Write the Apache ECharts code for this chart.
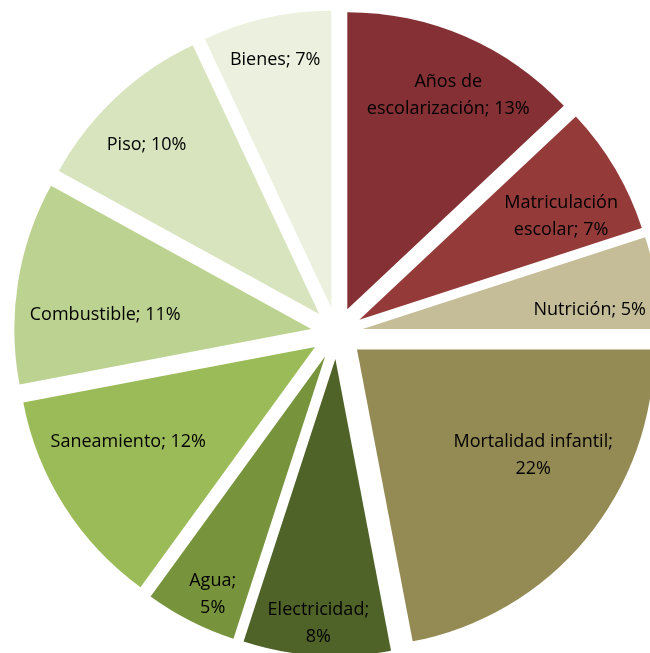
<!DOCTYPE html>
<html>
<head>
<meta charset="utf-8">
<script src="https://cdn.jsdelivr.net/npm/echarts@6/dist/echarts.min.js"></script>
<style>
html,body{margin:0;padding:0;background:#fff;}
#chart{width:650px;height:653px;}
</style>
</head>
<body>
<div id="chart"></div>
<script>
// Data
var categories = ['Años de escolarización', 'Matriculación escolar', 'Nutrición', 'Mortalidad infantil', 'Electricidad', 'Agua', 'Saneamiento', 'Combustible', 'Piso', 'Bienes'];
var values = [13, 7, 5, 22, 8, 5, 12, 11, 10, 7];
var colors = ['#843034', '#943b3a', '#c4bd97', '#948a54', '#4f6228', '#77933c', '#9bbb59', '#bcd290', '#d7e4bd', '#ebf1de'];

// small label nudges (Excel "best fit" placement), in px
var labelNudge = [[6, 6], [-4, 18], [-9, 18], [-8, -47], [-2, 26], [-4, 25], [15, -33], [30, 23], [-9, 5], [-4, -15]];

function labelText(name, pct) {
  if (name === 'Años de escolarización') return 'Años de\nescolarización; ' + pct + '%';
  if (name === 'Matriculación escolar') return 'Matriculación\nescolar; ' + pct + '%';
  if (name === 'Mortalidad infantil') return 'Mortalidad infantil;\n' + pct + '%';
  if (name === 'Electricidad') return 'Electricidad;\n' + pct + '%';
  if (name === 'Agua') return 'Agua;\n' + pct + '%';
  return name + '; ' + pct + '%';
}

var pieData = categories.map(function (c, i) {
  return { name: c, value: values[i], selected: true, itemStyle: { color: colors[i] } };
});
var labelData = categories.map(function (c, i) {
  return { name: c, value: values[i], selected: true };
});

var chart = echarts.init(document.getElementById('chart'), null, { renderer: 'canvas' });
chart.setOption({
  animation: false,
  backgroundColor: '#ffffff',
  series: [
    {
      type: 'pie',
      center: [337, 333],
      radius: [0, 297],
      startAngle: 90,
      clockwise: true,
      selectedMode: 'multiple',
      selectedOffset: 26,
      silent: true,
      label: { show: false },
      labelLine: { show: false },
      itemStyle: { borderWidth: 0 },
      emphasis: { disabled: true },
      data: pieData
    },
    {
      type: 'pie',
      center: [337, 333],
      radius: [175, 297],
      startAngle: 90,
      clockwise: true,
      selectedMode: 'multiple',
      selectedOffset: 26,
      silent: true,
      avoidLabelOverlap: false,
      itemStyle: { color: 'rgba(0,0,0,0)', borderWidth: 0 },
      emphasis: { disabled: true },
      labelLine: { show: false },
      label: {
        show: true,
        position: 'inside',
        color: '#000000',
        fontFamily: 'Open Sans',
        fontSize: 18,
        lineHeight: 27,
        align: 'center',
        formatter: function (p) { return labelText(p.name, Math.round(p.percent)); }
      },
      labelLayout: function (p) {
        var n = labelNudge[p.dataIndex];
        return { dx: n[0], dy: n[1] };
      },
      data: labelData
    }
  ]
});
</script>
</body>
</html>
